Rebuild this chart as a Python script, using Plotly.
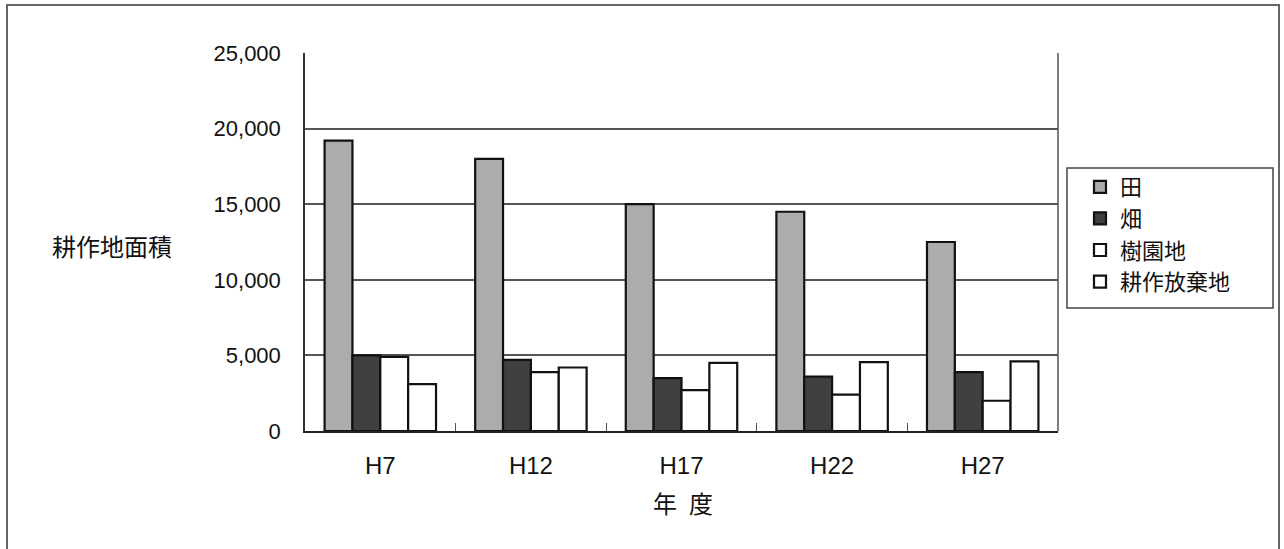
import plotly.graph_objects as go

# 年度別の耕作地面積
years = ["H7", "H12", "H17", "H22", "H27"]
ta = [19200, 18000, 15000, 14500, 12500]          # 田
hatake = [5000, 4700, 3500, 3600, 3900]           # 畑
juenchi = [4900, 3900, 2700, 2400, 2000]          # 樹園地
houkichi = [3100, 4200, 4500, 4550, 4600]         # 耕作放棄地
y_ticks = [0, 5000, 10000, 15000, 20000, 25000]
y_tick_text = ["0", "5,000", "10,000", "15,000", "20,000", "25,000"]

W, H = 1284, 549
L, R, T, B = 305, 1058, 53, 431  # plot area in pixels


def px(x):
    return (x - L) / (R - L)


def py(y):
    return (B - y) / (B - T)


series = [
    ("田", ta, "#acacac"),
    ("畑", hatake, "#404040"),
    ("樹園地", juenchi, "#ffffff"),
    ("耕作放棄地", houkichi, "#ffffff"),
]

fig = go.Figure()
for name, vals, color in series:
    fig.add_trace(go.Bar(
        x=years, y=vals, name=name,
        marker=dict(color=color, line=dict(color="#111111", width=2.2)),
    ))

font_main = "Liberation Sans, Arial, Noto Sans CJK JP, sans-serif"
font_cjk = "Noto Sans CJK JP, sans-serif"

fig.update_layout(
    width=W, height=H,
    margin=dict(l=L, r=W - R, t=T, b=H - B, pad=0),
    paper_bgcolor="white", plot_bgcolor="white",
    barmode="group", bargap=0.26, bargroupgap=0,
    showlegend=True,
    legend=dict(
        x=px(1080), y=py(166), xanchor="left", yanchor="top",
        font=dict(family=font_cjk, size=22, color="#111111"),
        bgcolor="rgba(0,0,0,0)", borderwidth=0,
        tracegroupgap=0, itemwidth=30,
    ),
    font=dict(family=font_main, color="#111111"),
    xaxis=dict(
        type="category", range=[-0.5, 4.5],
        showline=True, linecolor="#222222", linewidth=1.5,
        ticks="inside", tickson="boundaries", ticklen=8,
        tickcolor="#555555", tickwidth=1,
        tickfont=dict(family=font_main, size=24, color="#111111"),
        ticklabelstandoff=12,
        showgrid=False, mirror=False,
    ),
    yaxis=dict(
        range=[0, 25000], tickvals=y_ticks, ticktext=y_tick_text,
        showline=True, linecolor="#333333", linewidth=1.5,
        showgrid=True, gridcolor="#555555", gridwidth=1.5,
        ticks="", zeroline=False,
        tickfont=dict(family=font_main, size=22, color="#111111"),
        ticklabelstandoff=18,
    ),
)

# 右側の枠線、凡例の枠、外枠
fig.add_shape(type="line", xref="paper", yref="paper",
              x0=1, x1=1, y0=0, y1=1,
              line=dict(color="#555555", width=1.5))
fig.add_shape(type="rect", xref="paper", yref="paper",
              x0=px(1067), x1=px(1273), y0=py(168), y1=py(308),
              line=dict(color="#444444", width=1.5))
fig.add_shape(type="rect", xref="paper", yref="paper",
              x0=px(7), x1=px(1279), y0=py(553), y1=py(5),
              line=dict(color="#666666", width=2))

fig.add_annotation(text="耕作地面積", xref="paper", yref="paper",
                   x=px(112), y=py(245), xanchor="center", yanchor="middle",
                   showarrow=False,
                   font=dict(family=font_cjk, size=24, color="#111111"))
fig.add_annotation(text="年\u2002度", xref="paper", yref="paper",
                   x=px(683), y=py(502), xanchor="center", yanchor="middle",
                   showarrow=False,
                   font=dict(family=font_cjk, size=24, color="#111111"))

fig.write_html("out.html")
